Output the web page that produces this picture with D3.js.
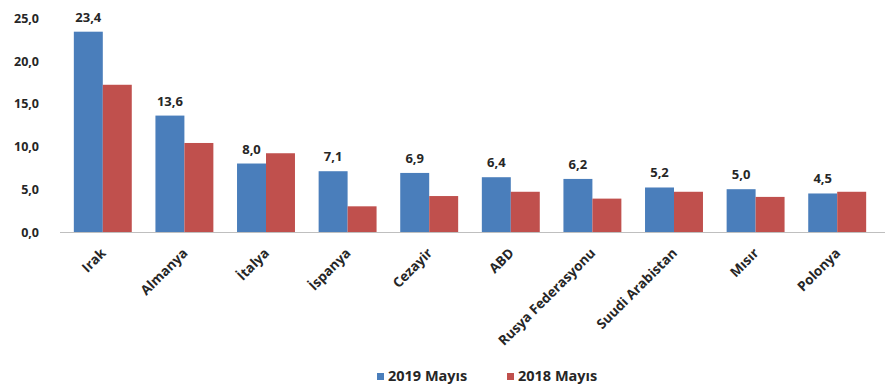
<!DOCTYPE html>
<meta charset="utf-8">
<head>
<style>
body { margin: 0; background: #fff; }
text { font-family: "Open Sans", "Liberation Sans", sans-serif; font-weight: bold; fill: #262626; }
.yaxis text { font-size: 12.5px; }
.xaxis text { font-size: 13.5px; }
.value { font-size: 13px; text-anchor: middle; }
.legend text { font-size: 14.5px; }
</style>
<script src="https://d3js.org/d3.v7.min.js"></script>
</head>
<body>
<svg width="885" height="388"></svg>
<script>

// countries and values (% share)
var countries = ["Irak", "Almanya", "İtalya", "İspanya", "Cezayir", "ABD", "Rusya Federasyonu", "Suudi Arabistan", "Mısır", "Polonya"];
var may2019 = [23.4, 13.6, 8.0, 7.1, 6.9, 6.4, 6.2, 5.2, 5.0, 4.5];
var may2018 = [17.2, 10.4, 9.2, 3.0, 4.2, 4.7, 3.9, 4.7, 4.1, 4.7];
var seriesNames = ["2019 Mayıs", "2018 Mayıs"];
var yTicks = [0, 5, 10, 15, 20, 25];

var colors = ["#4a7ebb", "#c0504d"];

var svg = d3.select("svg");

var x = d3.scaleBand()
    .domain(countries)
    .range([62, 878])
    .paddingInner(0.29)
    .paddingOuter(0.145);

var xs = d3.scaleBand()
    .domain([0, 1])
    .range([0, x.bandwidth()]);

var y = d3.scaleLinear()
    .domain([0, 25])
    .range([232, 18]);

var fmt = function(v) { return d3.format(".1f")(v).replace(".", ","); };

// y axis, labels only
var yAxis = svg.append("g")
    .attr("class", "yaxis")
    .attr("transform", "translate(39,0)")
    .call(d3.axisLeft(y).tickValues(yTicks).tickFormat(fmt).tickSize(0).tickPadding(0));
yAxis.select(".domain").remove();
yAxis.selectAll("text").attr("dy", "0.35em");

var rows = countries.map(function(c, i) { return { c: c, vals: [may2019[i], may2018[i]] }; });

var grp = svg.append("g").selectAll("g")
    .data(rows)
    .enter().append("g")
      .attr("transform", function(d) { return "translate(" + x(d.c) + ",0)"; });

grp.selectAll("rect")
    .data(function(d) { return d.vals; })
    .enter().append("rect")
      .attr("x", function(d, i) { return xs(i); })
      .attr("width", xs.bandwidth())
      .attr("y", function(d) { return y(d); })
      .attr("height", function(d) { return y(0) - y(d); })
      .attr("fill", function(d, i) { return colors[i]; });

// labels over the 2019 bars
grp.append("text")
    .attr("class", "value")
    .attr("x", xs(0) + xs.bandwidth() / 2)
    .attr("y", function(d) { return y(d.vals[0]) - 10; })
    .text(function(d) { return fmt(d.vals[0]); });

// baseline
svg.append("line")
    .attr("x1", 60).attr("x2", 885)
    .attr("y1", y(0) + 0.5).attr("y2", y(0) + 0.5)
    .attr("stroke", "#bfbfbf");

// x labels, rotated
var xAxis = svg.append("g")
    .attr("class", "xaxis")
    .attr("transform", "translate(0," + y(0) + ")")
    .call(d3.axisBottom(x).tickSize(0).tickPadding(0));
xAxis.select(".domain").remove();
xAxis.selectAll("text")
    .style("text-anchor", "end")
    .attr("y", 0)
    .attr("dy", 0)
    .attr("transform", "translate(4,22) rotate(-45)");

// legend
var legend = svg.append("g").attr("class", "legend")
    .attr("transform", "translate(377,376)");
var item = legend.selectAll("g")
    .data(seriesNames)
    .enter().append("g")
      .attr("transform", function(d, i) { return "translate(" + (i * 130) + ",0)"; });
item.append("rect")
    .attr("x", 0).attr("y", -3).attr("width", 7).attr("height", 7)
    .attr("fill", function(d, i) { return colors[i]; });
item.append("text")
    .attr("x", 11).attr("dy", "0.35em")
    .text(function(d) { return d; });

</script>
</body>
